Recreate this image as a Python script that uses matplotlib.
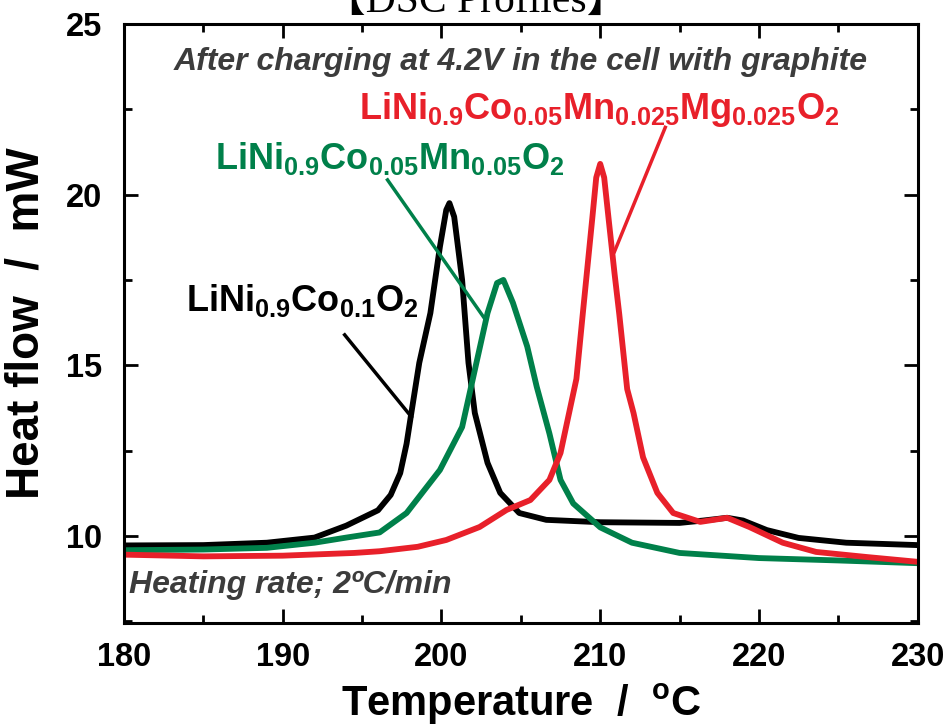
import matplotlib.pyplot as plt
from matplotlib.ticker import MultipleLocator

# DSC traces, temperature (degC) vs heat flow (mW)
t_nco = [180, 185, 189, 192, 194, 196, 196.8, 197.4, 197.8, 198.1, 198.6, 199.3, 199.9,
         200.3, 200.5, 200.8, 201.3, 201.7, 202.1, 202.9, 203.7, 204.9, 206.6, 210,
         215, 216.5, 218, 219, 220.5, 222.5, 225.5, 230]
q_nco = [9.72, 9.73, 9.8, 9.95, 10.3, 10.75, 11.2, 11.84, 12.7, 13.6, 15.07, 16.53, 18.47,
         19.55, 19.75, 19.35, 17.5, 15.07, 13.6, 12.14, 11.26, 10.67, 10.47, 10.4,
         10.38, 10.45, 10.53, 10.45, 10.17, 9.94, 9.8, 9.73]

t_mn = [180, 185, 189, 192, 194, 196.1, 197.8, 199.9, 201.3, 202.2, 202.9, 203.5,
        203.9, 204.5, 205.4, 206.0, 206.8, 207.5, 208.3, 210,
        212, 215, 220, 225, 230]
q_mn = [9.58, 9.6, 9.65, 9.8, 9.95, 10.1, 10.67, 11.93, 13.19, 15.07, 16.53, 17.41,
        17.5, 16.83, 15.55, 14.37, 13.0, 11.64, 10.95, 10.25,
        9.8, 9.5, 9.35, 9.28, 9.2]

t_mg = [180, 185, 190, 194.5, 196.1, 198.5, 200.3, 202.4, 204.1, 205.6, 206.8, 207.5,
        207.9, 208.5, 208.9, 209.2, 209.5, 209.75, 210, 210.25, 210.55, 210.9, 211.2,
        211.7, 212.1, 212.7, 213.6, 214.6, 216.3, 218, 219.4, 221.5, 223.6, 226.8, 230]
q_mg = [9.45, 9.4, 9.42, 9.5, 9.55, 9.68, 9.88, 10.26, 10.76, 11.05, 11.64, 12.43,
        13.3, 14.6, 16.5, 17.9, 19.3, 20.5, 20.9, 20.5, 19.2, 17.7, 16.5,
        14.3, 13.6, 12.3, 11.26, 10.67, 10.41, 10.53, 10.26, 9.8, 9.53, 9.38, 9.24]

x_ticks = [180, 190, 200, 210, 220, 230]
y_ticks = [10, 15, 20, 25]

black = '#000000'
green = '#00804a'
red = '#e8202a'
gray = '#3c3c3c'

plt.rcParams['font.family'] = ['Liberation Sans', 'DejaVu Sans']
plt.rcParams['mathtext.fontset'] = 'custom'
plt.rcParams['mathtext.bf'] = 'Liberation Sans:bold'
plt.rcParams['mathtext.rm'] = 'Liberation Sans:bold'

fig = plt.figure(figsize=(9.47, 7.26), dpi=100)
ax = fig.add_axes([0.131, 0.142, 0.838, 0.825])

lw = 4.2
for t, q, c in [(t_nco, q_nco, black), (t_mn, q_mn, green), (t_mg, q_mg, red)]:
    ax.plot(t, q, color=c, linewidth=lw, solid_joinstyle='round', solid_capstyle='round')

ax.set_xlim(180, 230)
ax.set_ylim(7.45, 25)
ax.set_xticks(x_ticks)
ax.set_yticks(y_ticks)
ax.xaxis.set_minor_locator(MultipleLocator(5))
ax.yaxis.set_minor_locator(MultipleLocator(2.5))
ax.tick_params(which='both', direction='in', top=True, right=True, width=2)
ax.tick_params(which='major', length=10, labelsize=23.5)
ax.tick_params(axis='x', which='major', pad=14)
ax.tick_params(axis='y', which='major', pad=16)
ax.tick_params(which='minor', length=6)
for lab in ax.get_xticklabels() + ax.get_yticklabels():
    lab.set_fontweight('bold')
for s in ax.spines.values():
    s.set_linewidth(2.2)

ax.set_xlabel('Temperature  /  $^{\\mathrm{o}}$C', fontsize=30, fontweight='bold', labelpad=6)
ax.set_ylabel('Heat flow  /  mW', fontsize=33, fontweight='bold', labelpad=12)

# notes
ax.text(0.5, 0.937, 'After charging at 4.2V in the cell with graphite', transform=ax.transAxes,
        ha='center', va='center', fontsize=23, fontweight='bold', style='italic', color=gray)
ax.text(0.006, 0.063, 'Heating rate; 2ºC/min', transform=ax.transAxes,
        ha='left', va='center', fontsize=23, fontweight='bold', style='italic', color=gray)

# sample labels with leader lines
ax.text(194.8, 22.5, r'$\mathbf{LiNi_{0.9}Co_{0.05}Mn_{0.025}Mg_{0.025}O_{2}}$',
        color=red, fontsize=26, ha='left', va='center')
ax.plot([214.1, 210.9], [21.97, 18.33], color=red, linewidth=2.5)

ax.text(185.7, 21.07, r'$\mathbf{LiNi_{0.9}Co_{0.05}Mn_{0.05}O_{2}}$',
        color=green, fontsize=26, ha='left', va='center')
ax.plot([196.6, 202.7], [20.43, 16.38], color=green, linewidth=2.5)

ax.text(183.9, 16.9, r'$\mathbf{LiNi_{0.9}Co_{0.1}O_{2}}$',
        color=black, fontsize=26, ha='left', va='center')
ax.plot([193.9, 198.1], [15.89, 13.49], color=black, linewidth=2.5)

# page heading, partly above the figure edge
fig.text(0.503, 0.983, '【DSC Profiles】', ha='center', va='baseline', fontsize=30,
         family=['Liberation Serif', 'Noto Sans CJK JP'])

fig.savefig('out.png', dpi=100)
